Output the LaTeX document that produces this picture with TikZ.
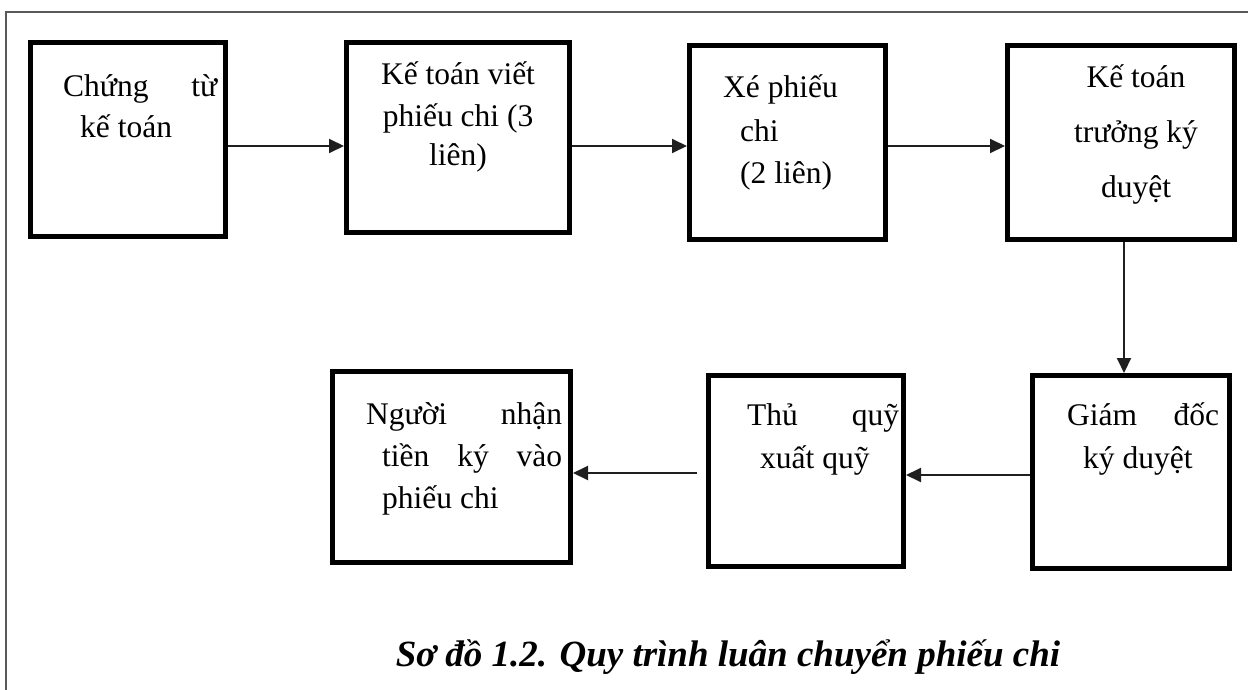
\documentclass[tikz,border=0pt]{standalone}
\usepackage{fontspec}
\setmainfont{Liberation Serif}
\usetikzlibrary{arrows.meta}
\begin{document}
\begin{tikzpicture}[x=1pt,y=-1pt,
  stepbox/.style={draw=black, line width=5pt, inner sep=0pt},
  txt/.style={inner sep=0pt, font=\fontsize{31.5}{37}\selectfont, text=black},
  arr/.style={draw=black!88, line width=2pt, -{Triangle[length=15pt,width=14pt]}},
  frame/.style={draw=black!65, line width=2pt},
  caption/.style={inner sep=0pt, font=\fontsize{37}{44}\selectfont\bfseries\itshape}]
\useasboundingbox (0,0) rectangle (1248,690);

% outer frame (left and top edges)
\coordinate (fbl) at (6,690);
\coordinate (ftl) at (6,12);
\coordinate (ftr) at (1248,12);
\draw[frame] (fbl) -- (ftl) -- (ftr);

% boxes
\node[stepbox, minimum width=195pt, minimum height=194pt] (b1) at (128,139.5) {};
\node[stepbox, minimum width=223pt, minimum height=190pt] (b2) at (458,137.5) {};
\node[stepbox, minimum width=196pt, minimum height=194pt] (b3) at (787.5,142.5) {};
\node[stepbox, minimum width=227pt, minimum height=194pt] (b4) at (1121,142.5) {};
\node[stepbox, minimum width=197pt, minimum height=193pt] (b5) at (1131,472) {};
\node[stepbox, minimum width=195pt, minimum height=191pt] (b6) at (806,471) {};
\node[stepbox, minimum width=238pt, minimum height=191pt] (b7) at (451.5,467) {};

% box texts
\node[txt, anchor=base west] (t11) at (63,97) {\makebox[154pt][s]{Chứng từ}};
\node[txt, anchor=base west] (t12) at (80,138) {kế toán};

\node[txt, anchor=base] (t21) at (458,85) {Kế toán viết};
\node[txt, anchor=base] (t22) at (458,127) {phiếu chi (3};
\node[txt, anchor=base] (t23) at (458,166) {liên)};

\node[txt, anchor=base west] (t31) at (723,98) {Xé phiếu};
\node[txt, anchor=base west] (t32) at (740,142) {chi};
\node[txt, anchor=base west] (t33) at (740,183) {(2 liên)};

\node[txt, anchor=base] (t41) at (1136,88) {Kế toán};
\node[txt, anchor=base] (t42) at (1136,143) {trưởng ký};
\node[txt, anchor=base] (t43) at (1136,197) {duyệt};

\node[txt, anchor=base west] (t51) at (1067,425) {\makebox[152pt][s]{Giám đốc}};
\node[txt, anchor=base west] (t52) at (1083,468) {ký duyệt};

\node[txt, anchor=base west] (t61) at (747,425) {\makebox[152pt][s]{Thủ quỹ}};
\node[txt, anchor=base west] (t62) at (760,468) {xuất quỹ};

\node[txt, anchor=base west] (t71) at (366,424) {\makebox[196pt][s]{Người nhận}};
\node[txt, anchor=base west] (t72) at (382,466) {\makebox[180pt][s]{tiền ký vào}};
\node[txt, anchor=base west] (t73) at (382,508) {phiếu chi};

% connectors
\coordinate (r1) at (0,146);
\coordinate (r2) at (0,475);
\coordinate (r3) at (0,473);
\coordinate (cdown) at (1124,0);
\draw[arr] (b1.east |- r1) -- (b2.west |- r1);
\draw[arr] (b2.east |- r1) -- (b3.west |- r1);
\draw[arr] (b3.east |- r1) -- (b4.west |- r1);
\draw[arr] (cdown |- b4.south) -- (cdown |- b5.north);
\draw[arr] (b5.west |- r2) -- (b6.east |- r2);
\draw[arr] ([xshift=-9pt]b6.west |- r3) -- (b7.east |- r3);

% caption
\node[caption, anchor=base] (cap) at (728,666) {Sơ đồ 1.2. Quy trình luân chuyển phiếu chi};
\end{tikzpicture}
\end{document}
